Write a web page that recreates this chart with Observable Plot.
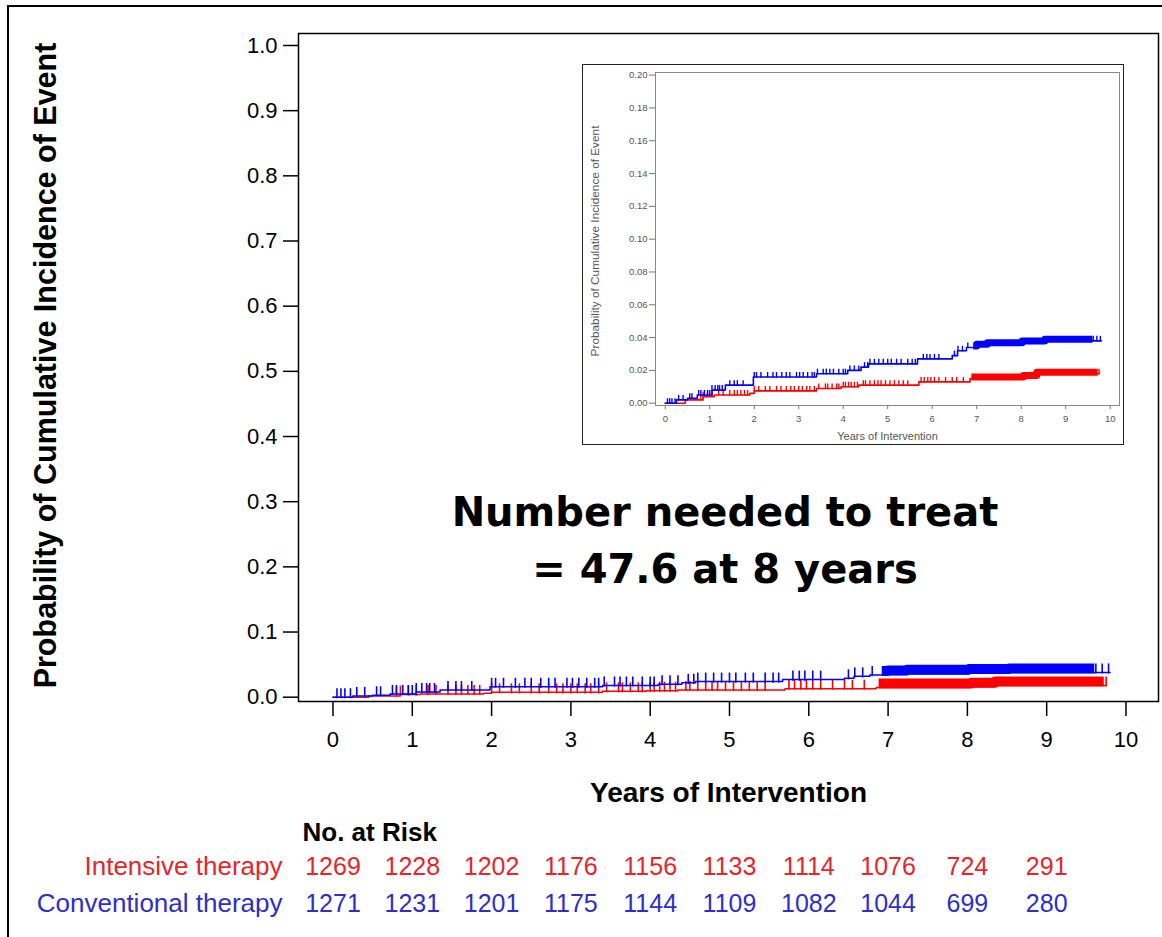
<!DOCTYPE html>
<html><head><meta charset="utf-8">
<script src="https://cdn.jsdelivr.net/npm/d3@7"></script>
<script src="https://cdn.jsdelivr.net/npm/@observablehq/plot@0.6"></script>
<style>
body{margin:0;background:#fff;}
#wrap{position:relative;width:1162px;height:937px;overflow:hidden;background:#fff;font-family:"Liberation Sans",Arial,sans-serif;}
#border{position:absolute;left:7px;top:5px;width:1300px;height:1100px;border-left:2px solid #000;border-top:2px solid #000;}
#main{position:absolute;left:0;top:0;}
#insetBox{position:absolute;left:582px;top:64px;width:540px;height:379px;border:1.5px solid #222;background:#fff;}
#inset{position:absolute;left:583px;top:65px;}
#note{position:absolute;left:425px;top:484px;width:600px;text-align:center;font-family:"Comic Sans MS","DejaVu Sans",sans-serif;font-weight:bold;font-size:40px;line-height:57px;color:#000;}
</style></head>
<body>
<div id="wrap">
  <div id="border"></div>
  <div id="main"></div>
  <div id="insetBox"></div>
  <div id="inset"></div>
  <div id="note">Number needed to treat<br>= 47.6 at 8 years</div>
</div>
<script>
// ---------- data ----------
const xTicks = [0,1,2,3,4,5,6,7,8,9,10];
const yTicks = [0,0.1,0.2,0.3,0.4,0.5,0.6,0.7,0.8,0.9,1.0];
const insetYTicks = [0,0.02,0.04,0.06,0.08,0.10,0.12,0.14,0.16,0.18,0.20];

// Intensive therapy: cumulative incidence step function
const intTimes  = [0, 0.45, 0.85, 1.1, 1.9, 2.0, 3.4, 3.95, 4.35, 5.7, 6.85, 8.05, 8.35, 9.75];
const intValues = [0, 0.002, 0.004, 0.005, 0.006, 0.0075, 0.009, 0.010, 0.011, 0.013, 0.015, 0.016, 0.018, 0.018];
// Conventional therapy
const convTimes  = [0, 0.25, 0.5, 0.72, 1.05, 1.35, 1.98, 3.4, 4.1, 4.4, 4.57, 5.67, 6.45, 6.57, 6.77, 7.0, 7.24, 8.02, 8.53, 9.8];
const convValues = [0, 0.002, 0.003, 0.005, 0.008, 0.011, 0.016, 0.018, 0.020, 0.022, 0.024, 0.027, 0.029, 0.032, 0.034, 0.035, 0.036, 0.037, 0.038, 0.038];

// censoring times (sparse marks)
const intCensor = [0.8,0.85,0.95,1.05,1.2,1.3,1.45,1.55,1.62,1.7,1.78,1.85,2.0,2.1,2.25,2.35,2.5,2.6,2.72,2.82,2.9,3.0,3.08,3.18,3.25,3.35,3.45,3.6,3.65,3.75,3.85,3.9,4.0,4.05,4.12,4.18,4.25,4.32,4.45,4.5,4.6,4.7,4.78,4.85,4.95,5.05,5.15,5.25,5.35,5.45,5.75,5.82,5.9,5.97,6.05,6.15,6.3,6.45,6.55,6.7,9.75];
const convCensor = [0.05,0.1,0.15,0.22,0.3,0.4,0.55,0.6,0.75,0.8,0.88,0.95,1.0,1.05,1.12,1.18,1.22,1.28,1.45,1.55,1.62,1.75,2.0,2.05,2.15,2.3,2.42,2.5,2.62,2.72,2.8,2.95,3.02,3.1,3.2,3.3,3.35,3.42,3.55,3.62,3.7,3.78,3.9,4.0,4.05,4.15,4.25,4.35,4.48,4.55,4.6,4.7,4.8,4.9,5.0,5.08,5.2,5.3,5.45,5.55,5.62,5.8,5.88,5.95,6.05,6.15,6.5,6.58,6.68,6.8,9.62,9.7,9.78];
// dense censoring blocks (start, end)
const intDense  = [6.88, 9.72];
const convDense = [6.92, 9.6];

// number at risk
const riskYears = [0,1,2,3,4,5,6,7,8,9];
const riskIntensive    = [1269,1228,1202,1176,1156,1133,1114,1076,724,291];
const riskConventional = [1271,1231,1201,1175,1144,1109,1082,1044,699,280];

const groupNames = ["Intensive therapy", "Conventional therapy"];
const lineColors = ["#ff0000", "#0000ff"];
const textColors = ["#e5262b", "#2e2ec8"];

const xTitle = "Years of Intervention";
const yTitle = "Probability of Cumulative Incidence of Event";
const riskTitle = "No. at Risk";

// ---------- derived tables ----------
function stepAt(times, values, t) {
  let v = values[0];
  for (let i = 0; i < times.length; i++) if (times[i] <= t) v = values[i];
  return v;
}
function stepRows(times, values, g) { return times.map((t, i) => ({t, v: values[i], g})); }
function censorRows(cens, times, values, g) { return cens.map(t => ({t, v: stepAt(times, values, t), g})); }
function denseRows(range, times, values, g) {
  const rows = [{t: range[0], v: stepAt(times, values, range[0]), g}];
  times.forEach((t, i) => { if (t > range[0] && t < range[1]) rows.push({t, v: values[i], g}); });
  rows.push({t: range[1], v: stepAt(times, values, range[1]), g});
  return rows;
}
const steps = [stepRows(intTimes, intValues, 0), stepRows(convTimes, convValues, 1)];
const censors = [censorRows(intCensor, intTimes, intValues, 0), censorRows(convCensor, convTimes, convValues, 1)];
const dense = [denseRows(intDense, intTimes, intValues, 0), denseRows(convDense, convTimes, convValues, 1)];

const censorSymbol = {
  draw(ctx, size) {
    const r = Math.sqrt(size / Math.PI);
    ctx.moveTo(0, -r);
    ctx.lineTo(0, r * 0.12);
  }
};

function curveMarks(lineW, denseW, denseDy, tickR, tickW) {
  const marks = [];
  for (const g of [0, 1]) {
    marks.push(Plot.line(dense[g], {x: "t", y: "v", curve: "step-after", stroke: lineColors[g], strokeWidth: denseW, dy: denseDy, strokeLinecap: "butt"}));
    marks.push(Plot.dot(censors[g], {x: "t", y: "v", r: tickR, symbol: censorSymbol, stroke: lineColors[g], strokeWidth: tickW, fill: "none"}));
    marks.push(Plot.line(steps[g], {x: "t", y: "v", curve: "step-after", stroke: lineColors[g], strokeWidth: lineW}));
  }
  return marks;
}

// ---------- main chart ----------
const riskRows = [
  riskYears.map((y, i) => ({year: y, n: riskIntensive[i]})),
  riskYears.map((y, i) => ({year: y, n: riskConventional[i]}))
];
const rowDy = [173, 210];

const main = Plot.plot({
  width: 1162,
  height: 937,
  marginLeft: 298,
  marginRight: 4,
  marginTop: 33,
  marginBottom: 236,
  style: {fontFamily: "'Liberation Sans', Arial, sans-serif", background: "transparent", color: "#000", overflow: "visible"},
  x: {domain: [-0.435, 10.41]},
  y: {domain: [-0.0066, 1.0184]},
  marks: [
    ...curveMarks(1.5, 10, -4, 9, 1.6),
    Plot.frame({stroke: "#000", strokeWidth: 1.5}),
    Plot.axisX({ticks: xTicks, tickSize: 15, tickPadding: 15, fontSize: 22, label: null, tickFormat: d => String(d), strokeWidth: 1.5}),
    Plot.axisY({ticks: yTicks, tickSize: 15, tickPadding: 6, fontSize: 22, label: null, tickFormat: d3.format(".1f"), strokeWidth: 1.5}),
    Plot.text([xTitle], {text: d => d, frameAnchor: "bottom", dy: 100, fontSize: 28, fontWeight: "bold"}),
    Plot.text([yTitle], {text: d => d, frameAnchor: "left", textAnchor: "middle", dx: -252, dy: -2, rotate: -90, fontSize: 30.5, fontWeight: "bold"}),
    Plot.text([riskTitle], {text: d => d, frameAnchor: "bottom-left", dx: 4, dy: 139, textAnchor: "start", fontSize: 26, fontWeight: "bold"}),
    ...[0, 1].map(g => Plot.text([groupNames[g]], {text: d => d, frameAnchor: "bottom-left", dx: -16, dy: rowDy[g], textAnchor: "end", fontSize: 26, fill: textColors[g]})),
    ...[0, 1].map(g => Plot.text(riskRows[g], {x: "year", text: d => String(d.n), frameAnchor: "bottom", dy: rowDy[g], fontSize: 25, fill: textColors[g]}))
  ]
});
document.getElementById("main").appendChild(main);

// ---------- inset ----------
const inset = Plot.plot({
  width: 541,
  height: 380,
  marginLeft: 72,
  marginRight: 5,
  marginTop: 7,
  marginBottom: 40,
  style: {fontFamily: "'Liberation Sans', Arial, sans-serif", background: "transparent", color: "#555", overflow: "visible"},
  x: {domain: [-0.22, 10.21]},
  y: {domain: [-0.0014, 0.2016]},
  marks: [
    ...curveMarks(1.6, 7, -1.5, 5, 1.4),
    Plot.frame({stroke: "#888", strokeWidth: 1}),
    Plot.axisX({ticks: xTicks, tickSize: 4, tickPadding: 6, fontSize: 9.5, label: null, tickFormat: d => String(d), stroke: "#777"}),
    Plot.axisY({ticks: insetYTicks, tickSize: 6, tickPadding: 2, fontSize: 9.5, label: null, tickFormat: d3.format(".2f"), stroke: "#777"}),
    Plot.text([xTitle], {text: d => d, frameAnchor: "bottom", dy: 34, fontSize: 11, fill: "#555"}),
    Plot.text([yTitle], {text: d => d, frameAnchor: "left", textAnchor: "middle", dx: -60, dy: 2, rotate: -90, fontSize: 11.8, fill: "#555"})
  ]
});
document.getElementById("inset").appendChild(inset);
</script>
</body></html>
